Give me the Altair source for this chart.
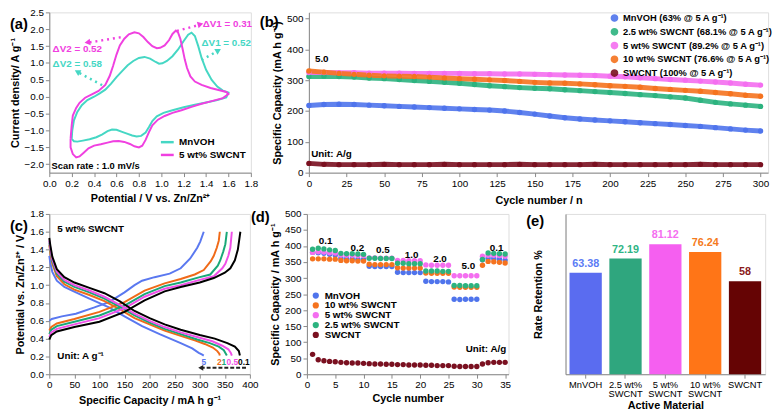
import altair as alt
import pandas as pd

FONT = "Liberation Sans"

# ---------------- (a) CV curves ----------------
mn_cv_v = [0.20, 0.205, 0.22, 0.25, 0.29, 0.34, 0.40, 0.45, 0.50, 0.55, 0.60, 0.65, 0.70, 0.75, 0.80, 0.85, 0.90,
           0.95, 0.98, 1.01, 1.05, 1.10, 1.15, 1.20, 1.24, 1.27, 1.30, 1.33, 1.36, 1.40, 1.45, 1.50, 1.55, 1.60,
           1.58, 1.50, 1.40, 1.30, 1.20, 1.10, 1.02, 0.96, 0.92, 0.89, 0.86, 0.82, 0.78, 0.74, 0.70, 0.65, 0.60,
           0.56, 0.52, 0.47, 0.42, 0.36, 0.30, 0.25, 0.22, 0.20]
mn_cv_i = [-1.25, -1.00, -0.70, -0.45, -0.25, -0.10, 0.00, 0.10, 0.21, 0.38, 0.58, 0.76, 0.93, 1.06, 1.15, 1.18, 1.13,
           1.03, 0.98, 0.99, 1.06, 1.20, 1.40, 1.65, 1.84, 1.90, 1.80, 1.50, 1.15, 0.80, 0.50, 0.30, 0.18, 0.12,
           -0.02, -0.10, -0.17, -0.24, -0.31, -0.40, -0.48, -0.58, -0.72, -0.90, -1.06, -1.16, -1.18, -1.15, -1.10,
           -1.04, -0.98, -0.97, -1.02, -1.12, -1.20, -1.26, -1.30, -1.33, -1.32, -1.25]
sw_cv_v = [0.19, 0.20, 0.21, 0.24, 0.27, 0.32, 0.38, 0.44, 0.50, 0.54, 0.57, 0.60, 0.63, 0.67, 0.71, 0.76, 0.80, 0.84,
           0.88, 0.92, 0.96, 0.99, 1.03, 1.07, 1.10, 1.13, 1.15, 1.17, 1.19, 1.21, 1.23, 1.26, 1.30, 1.36, 1.44, 1.52,
           1.58, 1.60, 1.55, 1.45, 1.36, 1.27, 1.18, 1.10, 1.03, 0.97, 0.92, 0.89, 0.86, 0.83, 0.80, 0.76, 0.72, 0.67,
           0.62, 0.57, 0.52, 0.46, 0.40, 0.35, 0.31, 0.27, 0.24, 0.21, 0.19, 0.19]
sw_cv_i = [-1.25, -0.85, -0.56, -0.33, -0.18, -0.03, 0.07, 0.17, 0.35, 0.62, 0.92, 1.25, 1.52, 1.72, 1.85, 1.91, 1.88,
           1.77, 1.62, 1.50, 1.44, 1.45, 1.52, 1.68, 1.86, 1.96, 1.90, 1.72, 1.42, 1.10, 0.85, 0.60, 0.45, 0.35, 0.26,
           0.19, 0.14, 0.08, -0.04, -0.13, -0.21, -0.30, -0.40, -0.48, -0.57, -0.68, -0.85, -1.05, -1.28, -1.45, -1.50,
           -1.47, -1.40, -1.34, -1.31, -1.32, -1.36, -1.41, -1.45, -1.53, -1.65, -1.77, -1.80, -1.70, -1.50, -1.25]

a_notes_text = ["ΔV2 = 0.52", "ΔV2 = 0.58", "ΔV1 = 0.31", "ΔV1 = 0.52", "Scan rate : 1.0 mV/s"]
a_notes_x = [0.25, 0.25, 1.59, 1.58, 0.02]
a_notes_y = [1.40, 0.97, 2.15, 1.60, -2.06]
a_notes_col = ["#f040e0", "#45d7c4", "#f040e0", "#45d7c4", "#000000"]
a_notes_align = ["center", "center", "center", "center", "left"]

a_arrow_id = ["m2", "m2", "c2", "c2", "m1", "m1", "c1", "c1"]
a_arrow_x = [0.67, 0.36, 0.49, 0.27, 1.14, 1.33, 1.36, 1.49]
a_arrow_y = [1.78, 1.61, 0.31, 0.70, 1.95, 2.12, 1.09, 1.33]
a_arrow_col = ["#f040e0", "#f040e0", "#45d7c4", "#45d7c4", "#f040e0", "#f040e0", "#45d7c4", "#45d7c4"]
a_head_x = [0.34, 0.25, 1.35, 1.51]
a_head_y = [1.61, 0.74, 2.15, 1.37]
a_head_ang = [261, 299, 74, 60]
a_head_col = ["#f040e0", "#45d7c4", "#f040e0", "#45d7c4"]

# ---------------- (b) cycling ----------------
b_cycles = list(range(0, 301, 10))
b_mnvoh = [218, 221, 222, 221, 219, 217, 215, 213, 211, 209, 207, 205, 203, 200, 195, 190, 184, 178, 174, 171, 168,
           165, 162, 159, 156, 153, 150, 146, 142, 138, 135]
b_25 = [312, 313, 312, 310, 307, 305, 302, 299, 296, 293, 290, 286, 282, 279, 276, 274, 272, 269, 266, 263, 260,
        257, 253, 250, 246, 242, 235, 228, 223, 219, 215]
b_5 = [325, 325, 324, 324, 323, 323, 323, 322, 322, 322, 322, 321, 321, 320, 320, 319, 318, 317, 316, 315, 313,
       311, 308, 305, 302, 300, 297, 294, 291, 287, 284]
b_10 = [330, 326, 322, 319, 316, 314, 313, 312, 310, 307, 305, 303, 301, 299, 296, 293, 291, 290, 288, 285, 282,
        280, 277, 273, 270, 267, 264, 260, 256, 251, 248]
b_sw = [30, 27, 26, 26, 26, 27, 26, 26, 26, 27, 26, 26, 26, 26, 27, 26, 26, 26, 26, 27, 26, 26, 26, 26, 26, 26, 27,
        26, 26, 26, 26]
b_names = ["MnVOH (63% @ 5 A g⁻¹)", "2.5 wt% SWCNT (68.1% @ 5 A g⁻¹)", "5 wt% SWCNT (89.2% @ 5 A g⁻¹)",
           "10 wt% SWCNT (76.6% @ 5 A g⁻¹)", "SWCNT (100% @ 5 A g⁻¹)"]
b_colors = ["#4f74ec", "#2cb37f", "#f46ef0", "#f5731f", "#7a1020"]

# ---------------- (c) GCD curves ----------------
c_rates = ["5", "2", "1", "0.5", "0.1"]
c_colors = ["#5a78f0", "#f06a18", "#1aa878", "#f050e8", "#000000"]
c_ch_cap = {
    "0.1": [0, 4, 15, 50, 100, 150, 190, 230, 262, 300, 328, 350, 361, 370, 376, 381],
    "0.5": [0, 4, 15, 50, 100, 150, 190, 230, 262, 300, 328, 345, 351, 357, 361, 364],
    "1": [0, 4, 15, 50, 100, 150, 190, 230, 262, 300, 321, 336, 341, 347, 351, 354],
    "2": [0, 4, 15, 50, 100, 150, 190, 230, 262, 290, 308, 322, 328, 334, 338, 340],
    "5": [0, 5, 25, 53, 90, 119, 150, 170, 185, 210, 240, 262, 281, 295, 301, 308],
}
c_ch_v = {
    "0.1": [0.39, 0.44, 0.48, 0.53, 0.59, 0.70, 0.83, 0.93, 0.98, 1.03, 1.08, 1.14, 1.19, 1.28, 1.40, 1.60],
    "0.5": [0.42, 0.47, 0.51, 0.56, 0.63, 0.74, 0.87, 0.96, 1.00, 1.06, 1.10, 1.19, 1.24, 1.33, 1.42, 1.60],
    "1": [0.45, 0.50, 0.54, 0.59, 0.66, 0.77, 0.90, 0.99, 1.03, 1.09, 1.12, 1.22, 1.28, 1.38, 1.46, 1.60],
    "2": [0.49, 0.53, 0.57, 0.62, 0.70, 0.81, 0.94, 1.02, 1.07, 1.12, 1.17, 1.27, 1.33, 1.42, 1.50, 1.60],
    "5": [0.60, 0.62, 0.65, 0.68, 0.75, 0.81, 0.92, 1.00, 1.05, 1.09, 1.13, 1.19, 1.30, 1.42, 1.49, 1.60],
}
c_dis_cap = {
    "0.1": [0, 2, 6, 15, 30, 50, 80, 110, 140, 170, 200, 230, 262, 300, 330, 355, 370, 378, 380],
    "0.5": [0, 2, 6, 15, 30, 50, 80, 110, 140, 170, 200, 230, 262, 300, 325, 345, 357, 362, 364],
    "1": [0, 2, 6, 15, 30, 50, 80, 110, 140, 170, 200, 230, 262, 295, 320, 338, 348, 352, 354],
    "2": [0, 2, 6, 15, 30, 50, 80, 110, 140, 170, 200, 230, 262, 290, 310, 326, 335, 339, 340],
    "5": [0, 2, 6, 15, 30, 53, 80, 119, 150, 185, 220, 262, 285, 298, 305, 308],
}
c_dis_v = {
    "0.1": [1.53, 1.45, 1.32, 1.18, 1.09, 1.03, 0.97, 0.91, 0.82, 0.71, 0.63, 0.56, 0.50, 0.44, 0.40, 0.35, 0.31, 0.26, 0.21],
    "0.5": [1.50, 1.42, 1.29, 1.15, 1.06, 1.00, 0.94, 0.87, 0.78, 0.68, 0.60, 0.53, 0.47, 0.41, 0.37, 0.32, 0.28, 0.24, 0.21],
    "1": [1.48, 1.40, 1.27, 1.13, 1.04, 0.98, 0.92, 0.85, 0.76, 0.66, 0.58, 0.51, 0.45, 0.39, 0.35, 0.31, 0.27, 0.23, 0.21],
    "2": [1.45, 1.37, 1.24, 1.10, 1.01, 0.95, 0.89, 0.82, 0.73, 0.63, 0.56, 0.49, 0.43, 0.38, 0.34, 0.30, 0.26, 0.23, 0.21],
    "5": [1.33, 1.25, 1.15, 1.05, 0.98, 0.92, 0.85, 0.75, 0.65, 0.54, 0.45, 0.35, 0.29, 0.24, 0.22, 0.21],
}
c_lab_cap = [308, 339, 348, 365, 388]
c_lab_v = [0.14, 0.14, 0.14, 0.14, 0.14]
c_arrow_cap = [396, 302]
c_arrow_v = [0.072, 0.072]
c_notes_text = ["5 wt% SWCNT", "Unit: A g⁻¹"]
c_notes_cap = [16, 16]
c_notes_v = [1.635, 0.20]

# ---------------- (d) rate performance ----------------
d_cycles = list(range(1, 36))
d_names = ["MnVOH", "10 wt% SWCNT", "5 wt% SWCNT", "2.5 wt% SWCNT", "SWCNT"]
d_colors = ["#4f74ec", "#f5731f", "#f46ef0", "#2cb37f", "#7a1020"]
d_mnvoh = [380, 379, 377, 374, 372, 362, 360, 360, 359, 358, 337, 336, 336, 336, 336, 318, 317, 317, 317, 317,
           290, 289, 289, 289, 288, 234, 233, 234, 234, 234, 357, 362, 361, 359, 356]
d_10 = [360, 360, 360, 359, 359, 355, 354, 354, 353, 353, 343, 342, 342, 342, 342, 332, 331, 331, 331, 331,
        316, 315, 315, 315, 315, 272, 271, 271, 271, 271, 340, 352, 351, 349, 347]
d_5 = [380, 382, 381, 379, 378, 372, 371, 371, 370, 370, 363, 363, 362, 362, 362, 355, 355, 354, 354, 354,
       341, 340, 340, 340, 340, 307, 307, 307, 307, 307, 368, 371, 371, 370, 368]
d_25 = [390, 393, 391, 388, 386, 377, 376, 376, 375, 374, 362, 362, 361, 361, 361, 346, 346, 345, 345, 345,
        322, 322, 322, 321, 321, 277, 277, 276, 276, 276, 358, 378, 377, 376, 375]
d_sw = [62, 45, 42, 40, 39, 37, 36, 35, 35, 34, 33, 32, 32, 31, 31, 30, 30, 29, 29, 29, 28, 28, 27, 27, 27,
        25, 24, 24, 24, 24, 32, 36, 37, 37, 37]
d_rate_text = ["0.1", "0.2", "0.5", "1.0", "2.0", "5.0", "0.1"]
d_rate_x = [3.3, 8.9, 13.4, 18.5, 23.5, 28.5, 33.5]
d_rate_y = [414, 395, 387, 372, 360, 337, 395]

# ---------------- (e) rate retention ----------------
e_names = ["MnVOH", "2.5 wt% SWCNT", "5 wt% SWCNT", "10 wt% SWCNT", "SWCNT"]
e_values = [63.38, 72.19, 81.12, 76.24, 58]
e_labels = ["63.38", "72.19", "81.12", "76.24", "58"]
e_bar_colors = ["#5a6cf0", "#2fa67e", "#f55ff0", "#ff7517", "#650404"]
e_text_colors = ["#5b7cf5", "#2fb585", "#f56ef0", "#f57a20", "#8a1a1a"]

# =========================================================
TXT = dict(font=FONT, fontWeight="bold")


def axis(title, values, fmt=None, **kw):
    args = dict(title=title, values=values, tickSize=4, labelPadding=2, titlePadding=4, grid=False,
                labelOverlap=False, labelBound=False, labelFlush=False)
    if fmt:
        args["format"] = fmt
    args.update(kw)
    return alt.Axis(**args)


def panel_label(txt, dx, dy):
    return alt.Chart(pd.DataFrame({"t": [txt]})).mark_text(
        text=txt, align="left", baseline="top", fontSize=15, **TXT, color="black"
    ).encode(x=alt.value(dx), y=alt.value(dy))


# ---------- panel (a) ----------
rows = []
for k, (v, i) in enumerate(zip(mn_cv_v, mn_cv_i)):
    rows.append({"V": v, "I": i, "series": "MnVOH", "k": k})
for k, (v, i) in enumerate(zip(sw_cv_v, sw_cv_i)):
    rows.append({"V": v, "I": i, "series": "5 wt% SWCNT", "k": k})
df_a = pd.DataFrame(rows)

xa = alt.X("V:Q", scale=alt.Scale(domain=[0, 1.8], nice=False),
           axis=axis("Potential / V vs. Zn/Zn²⁺", [round(0.2 * j, 1) for j in range(10)], ".1f"))
ya = alt.Y("I:Q", scale=alt.Scale(domain=[-2.25, 2.5], nice=False),
           axis=axis("Current density/ A g⁻¹", [-2.0, -1.5, -1.0, -0.5, 0.0, 0.5, 1.0, 1.5, 2.0, 2.5], ".1f"))

a_lines = alt.Chart(df_a).mark_line(strokeWidth=2).encode(
    x=xa, y=ya, order="k:Q",
    color=alt.Color("series:N", scale=alt.Scale(domain=["MnVOH", "5 wt% SWCNT"], range=["#45d7c4", "#f040e0"]),
                    legend=alt.Legend(orient="none", legendX=112, legendY=124, title=None, symbolType="stroke",
                                      symbolSize=170, symbolStrokeWidth=2.5, labelFont=FONT, labelFontWeight="bold",
                                      labelFontSize=10, rowPadding=0, labelColor="black")),
)
df_aarrow = pd.DataFrame({"id": a_arrow_id, "V": a_arrow_x, "I": a_arrow_y, "col": a_arrow_col})
a_arrows = alt.Chart(df_aarrow).mark_line(strokeDash=[2, 4], strokeWidth=2.5).encode(
    x=xa, y=ya, detail="id:N", stroke=alt.Stroke("col:N", scale=None))
df_ahead = pd.DataFrame({"V": a_head_x, "I": a_head_y, "ang": a_head_ang, "col": a_head_col})
a_heads = alt.Chart(df_ahead).mark_point(shape="triangle-up", filled=True, size=45, opacity=1).encode(
    x=xa, y=ya, angle=alt.Angle("ang:Q", scale=None), fill=alt.Fill("col:N", scale=None))
df_anote = pd.DataFrame({"t": a_notes_text, "V": a_notes_x, "I": a_notes_y, "col": a_notes_col,
                         "al": a_notes_align})
a_notes_c = alt.Chart(df_anote[df_anote.al == "center"]).mark_text(fontSize=10, **TXT).encode(
    x=xa, y=ya, text="t:N", fill=alt.Fill("col:N", scale=None))
a_notes_l = alt.Chart(df_anote[df_anote.al == "left"]).mark_text(fontSize=9.5, align="left", **TXT).encode(
    x=xa, y=ya, text="t:N", fill=alt.Fill("col:N", scale=None))
panel_a = alt.layer(a_lines, a_arrows, a_heads, a_notes_c, a_notes_l, panel_label("(a)", -40, 5)).properties(
    width=205, height=163)

# ---------- panel (b) ----------
rows = []
for name, vals in zip(b_names, [b_mnvoh, b_25, b_5, b_10, b_sw]):
    for c, v in zip(b_cycles, vals):
        rows.append({"cycle": c, "cap": v, "series": name})
df_b = pd.DataFrame(rows)
xb = alt.X("cycle:Q", scale=alt.Scale(domain=[0, 305], nice=False),
           axis=axis("Cycle number / n", list(range(0, 301, 25)), titlePadding=6))
yb = alt.Y("cap:Q", scale=alt.Scale(domain=[0, 520], nice=False),
           axis=axis("Specific Capacity (mA h g⁻¹)", list(range(0, 501, 100))))
b_scale = alt.Scale(domain=b_names, range=b_colors)
b_legend = alt.Legend(orient="none", legendX=306, legendY=1, title=None, symbolType="circle",
                      symbolSize=40, labelFont=FONT, labelFontWeight="bold", labelFontSize=9.5,
                      rowPadding=1, labelColor="black", labelLimit=300)
b_lines = alt.Chart(df_b).mark_line(strokeWidth=5, opacity=0.9).encode(
    x=xb, y=yb, detail="series:N", color=alt.Color("series:N", scale=b_scale, legend=b_legend))
b_pts = alt.Chart(df_b).mark_circle(size=30, opacity=1).encode(
    x=xb, y=yb, color=alt.Color("series:N", scale=b_scale, legend=b_legend))
df_bnote = pd.DataFrame({"t": ["5.0", "Unit: A/g"], "cycle": [4, 1.5], "cap": [370, 60]})
b_notes = alt.Chart(df_bnote).mark_text(fontSize=10, align="left", **TXT, color="black").encode(
    x=xb, y=yb, text="t:N")
panel_b = alt.layer(b_lines, b_pts, b_notes, panel_label("(b)", -50, 3)).properties(width=467, height=163)

# ---------- panel (c) ----------
rows = []
for r in c_rates:
    for k, (q, v) in enumerate(zip(c_ch_cap[r], c_ch_v[r])):
        rows.append({"cap": q, "V": v, "rate": r, "curve": r + "c", "k": k})
    for k, (q, v) in enumerate(zip(c_dis_cap[r], c_dis_v[r])):
        rows.append({"cap": q, "V": v, "rate": r, "curve": r + "d", "k": k})
df_c = pd.DataFrame(rows)
xc = alt.X("cap:Q", scale=alt.Scale(domain=[0, 400], nice=False),
           axis=axis("Specific Capacity / mA h g⁻¹", list(range(0, 401, 50)), titlePadding=5))
yc = alt.Y("V:Q", scale=alt.Scale(domain=[0, 1.8], nice=False),
           axis=axis("Potential vs. Zn/Zn²⁺ / V", [round(0.2 * j, 1) for j in range(10)], ".1f"))
c_scale = alt.Scale(domain=c_rates, range=c_colors)
c_lines = alt.Chart(df_c).mark_line(strokeWidth=2).encode(
    x=xc, y=yc, detail="curve:N", order="k:Q", color=alt.Color("rate:N", scale=c_scale, legend=None))
df_clab = pd.DataFrame({"cap": c_lab_cap, "V": c_lab_v, "t": c_rates, "col": c_colors})
c_labs = alt.Chart(df_clab).mark_text(fontSize=8.5, **TXT).encode(
    x=xc, y=yc, text="t:N", fill=alt.Fill("col:N", scale=None))
df_carrow = pd.DataFrame({"cap": c_arrow_cap, "V": c_arrow_v})
c_arrow = alt.Chart(df_carrow).mark_line(strokeDash=[4, 2], strokeWidth=2, color="#222").encode(x=xc, y=yc)
c_head = alt.Chart(df_carrow.iloc[[1]]).mark_point(shape="triangle-left", filled=True, size=35, color="#222",
                                                   opacity=1).encode(x=xc, y=yc)
df_cnote = pd.DataFrame({"t": c_notes_text, "cap": c_notes_cap, "V": c_notes_v})
c_notes = alt.Chart(df_cnote).mark_text(fontSize=10, align="left", **TXT, color="black").encode(
    x=xc, y=yc, text="t:N")
panel_c = alt.layer(c_lines, c_labs, c_arrow, c_head, c_notes, panel_label("(c)", -40, 5)).properties(
    width=204, height=163)

# ---------- panel (d) ----------
rows = []
for name, vals in zip(d_names, [d_mnvoh, d_10, d_5, d_25, d_sw]):
    for c, v in zip(d_cycles, vals):
        rows.append({"cycle": c, "cap": v, "series": name})
df_d = pd.DataFrame(rows)
xd = alt.X("cycle:Q", scale=alt.Scale(domain=[0, 35.6], nice=False),
           axis=axis("Cycle number", list(range(0, 36, 5)), titlePadding=3))
yd = alt.Y("cap:Q", scale=alt.Scale(domain=[0, 500], nice=False),
           axis=axis("Specific Capacity / mA h g⁻¹", list(range(0, 501, 50))))
d_pts = alt.Chart(df_d).mark_circle(size=30, opacity=1).encode(
    x=xd, y=yd,
    color=alt.Color("series:N", scale=alt.Scale(domain=d_names, range=d_colors),
                    legend=alt.Legend(orient="none", legendX=4, legendY=78, title=None, symbolType="circle",
                                      symbolSize=40, labelFont=FONT, labelFontWeight="bold", labelFontSize=10,
                                      rowPadding=0, labelColor="black")))
df_drate = pd.DataFrame({"cycle": d_rate_x, "cap": d_rate_y, "t": d_rate_text})
d_rates = alt.Chart(df_drate).mark_text(fontSize=10, **TXT, color="black").encode(
    x=xd, y=yd, text="t:N")
d_unit = alt.Chart(pd.DataFrame({"cycle": [35.2], "cap": [79], "t": ["Unit: A/g"]})).mark_text(
    fontSize=10, align="right", **TXT, color="black").encode(x=xd, y=yd, text="t:N")
panel_d = alt.layer(d_pts, d_rates, d_unit, panel_label("(d)", -57, -4)).properties(width=205, height=163)

# ---------- panel (e) ----------
df_e = pd.DataFrame({"name": e_names, "val": e_values, "lab": e_labels, "bc": e_bar_colors, "tc": e_text_colors})
xe = alt.X("name:N", sort=e_names, scale=alt.Scale(paddingInner=0.19, paddingOuter=0.1),
           axis=alt.Axis(title="Active Material", labelAngle=0, tickSize=4, labelPadding=1, titlePadding=1,
                         labelLineHeight=10, labelFontSize=9.5, labelOverlap=False,
                         labelExpr="indexof(datum.label, 'wt%') > 0 ? split(replace(datum.label, 'wt% ', 'wt%|'), '|') : datum.label"))
ye = alt.Y("val:Q", scale=alt.Scale(domain=[0, 100], nice=False),
           axis=alt.Axis(title="Rate Retention %", labels=False, ticks=False, grid=False, titlePadding=22))
e_bars = alt.Chart(df_e).mark_bar().encode(x=xe, y=ye, fill=alt.Fill("bc:N", scale=None))
e_text = alt.Chart(df_e).mark_text(fontSize=11, dy=-9, **TXT).encode(
    x=xe, y=ye, text="lab:N", fill=alt.Fill("tc:N", scale=None))
panel_e = alt.layer(e_bars, e_text, panel_label("(e)", -40, 0)).properties(width=203, height=163)

# ---------- assemble ----------
top = alt.hconcat(panel_a, panel_b, spacing=59, bounds="flush").resolve_scale(color="independent")
bottom = alt.hconcat(panel_c, panel_d, panel_e, spacing=58, bounds="flush").resolve_scale(color="independent")
chart = alt.vconcat(top, bottom, spacing=2).resolve_scale(color="independent").properties(
    padding={"left": 0, "top": -5, "right": 0, "bottom": 0}
).configure_axis(
    labelFont=FONT, labelFontWeight="bold", labelFontSize=9.5, labelColor="black",
    titleFont=FONT, titleFontWeight="bold", titleFontSize=10.5, titleColor="black",
    domainColor="black", domainWidth=1.3, tickColor="black", tickWidth=1.2, labelOverlap=False,
).configure_view(stroke="black", strokeWidth=1.5).configure(background="white")

chart.save("out.html", embed_options={"renderer": "svg", "actions": False})
